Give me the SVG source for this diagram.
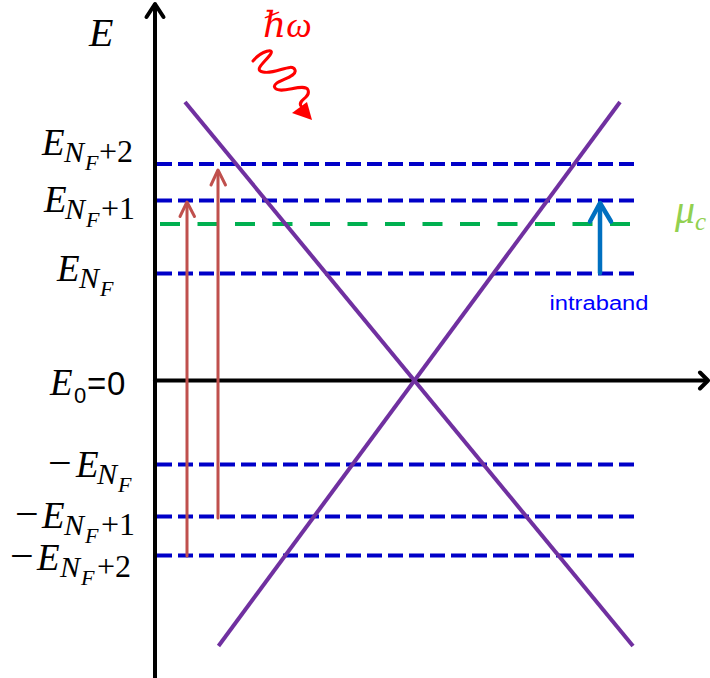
<svg xmlns="http://www.w3.org/2000/svg" width="710" height="678" viewBox="0 0 710 678">
<style>
.ax{stroke:#000;stroke-width:4;fill:none;stroke-linecap:round;stroke-linejoin:round}
.lvl{stroke:#0000c8;stroke-width:4;stroke-dasharray:15 6;fill:none}
.mu{stroke:#00b050;stroke-width:4;stroke-dasharray:20 17.5;fill:none}
.band{stroke:#7030a0;stroke-width:4;fill:none}
.inter{stroke:#c0504d;stroke-width:3;fill:none;stroke-linejoin:round;stroke-linecap:round}
.intra{stroke:#0070c0;stroke-width:4.5;fill:none;stroke-linejoin:round;stroke-linecap:round}
.m{font-family:"Liberation Serif","DejaVu Serif",serif;font-style:italic;fill:#000}
.up{font-style:normal}
.s{font-family:"Liberation Sans","DejaVu Sans",sans-serif;fill:#000}
</style>
<rect width="710" height="678" fill="#fff"/>
<g id="levels">
<line class="lvl" x1="157" y1="164" x2="635" y2="164"/>
<line class="lvl" x1="157" y1="200.5" x2="635" y2="200.5"/>
<line class="lvl" x1="157" y1="273.5" x2="635" y2="273.5"/>
<line class="lvl" x1="157" y1="464.5" x2="635" y2="464.5"/>
<line class="lvl" x1="157" y1="516.5" x2="635" y2="516.5"/>
<line class="lvl" x1="157" y1="555.5" x2="635" y2="555.5"/>
<line class="mu" x1="160" y1="224" x2="630" y2="224"/>
</g>
<g id="axes">
<line class="ax" x1="155" y1="678" x2="155" y2="5"/>
<polyline class="ax" points="146.5,17 155,4 163.5,17"/>
<line class="ax" x1="155" y1="380.5" x2="706" y2="380.5"/>
<polyline class="ax" points="700,372.5 708,380.5 700,388.5"/>
</g>
<g id="bands">
<line class="band" x1="185" y1="102" x2="633" y2="646"/>
<line class="band" x1="218.5" y1="646" x2="620" y2="102"/>
</g>
<g id="connectors">
<line class="inter" x1="187" y1="556" x2="187" y2="203"/>
<polyline class="inter" points="180,216.5 187,202 194.5,216.5"/>
<line class="inter" x1="218" y1="518" x2="218" y2="171"/>
<polyline class="inter" points="211,185 218,170 225.5,185"/>
<line class="intra" x1="600" y1="273" x2="600" y2="204"/>
<polyline class="intra" points="590,221.5 600,203 611,221.5"/>
</g>
<g id="photon">
<text class="m" x="263" y="37" font-size="36" style="fill:#ff0000">ℏω</text>
<path d="M253,61 C261,51 276,47 270,55 C263,64 254,70 263,72 C275,75 292,62 295,70 C298,78 270,81 275,88 C280,95 305,82 308,90 C311,98 297,100 301,106" fill="none" stroke="#ff0000" stroke-width="3" stroke-linecap="round"/>
<polygon points="292,113 312,120 307,102" fill="#ff0000"/>
</g>
<g id="label-E">
<text class="m" x="89" y="46" font-size="40">E</text>
</g>
<g id="label-ENF2">
<text class="m" font-size="37"><tspan x="42" y="155">E</tspan><tspan x="64" y="162" font-size="30">N</tspan><tspan x="85" y="170" font-size="22">F</tspan><tspan class="up" x="99" y="162" font-size="32">+2</tspan></text>
</g>
<g id="label-ENF1">
<text class="m" font-size="37"><tspan x="44" y="212">E</tspan><tspan x="65" y="219" font-size="30">N</tspan><tspan x="86" y="227" font-size="22">F</tspan><tspan class="up" x="101" y="219" font-size="32">+1</tspan></text>
</g>
<g id="label-ENF">
<text class="m" font-size="37"><tspan x="57" y="281">E</tspan><tspan x="79" y="288" font-size="30">N</tspan><tspan x="100" y="296" font-size="22">F</tspan></text>
</g>
<g id="label-E0">
<text class="m" font-size="37"><tspan x="50" y="395">E</tspan><tspan class="s up" x="74" y="403" font-size="22">0</tspan></text>
<text class="s" font-size="33"><tspan x="87" y="395">=</tspan><tspan x="107" y="395">0</tspan></text>
</g>
<g id="label-mENF">
<text class="m" font-size="37"><tspan class="up" x="48" y="477" font-size="42">−</tspan><tspan x="76" y="477">E</tspan><tspan x="97" y="484" font-size="30">N</tspan><tspan x="118" y="492" font-size="22">F</tspan></text>
</g>
<g id="label-mENF1">
<text class="m" font-size="37"><tspan class="up" x="15" y="528" font-size="42">−</tspan><tspan x="42" y="528">E</tspan><tspan x="64" y="535" font-size="30">N</tspan><tspan x="85" y="543" font-size="22">F</tspan><tspan class="up" x="101" y="535" font-size="32">+1</tspan></text>
</g>
<g id="label-mENF2">
<text class="m" font-size="37"><tspan class="up" x="10" y="570" font-size="42">−</tspan><tspan x="37" y="570">E</tspan><tspan x="60" y="577" font-size="30">N</tspan><tspan x="81" y="585" font-size="22">F</tspan><tspan class="up" x="97" y="577" font-size="32">+2</tspan></text>
</g>
<g id="label-mu">
<text class="m" font-size="40" style="fill:#92d050"><tspan x="675" y="223">μ</tspan><tspan x="695" y="230" font-size="25">c</tspan></text>
</g>
<g id="label-intraband">
<text class="s" x="599" y="310" font-size="20" text-anchor="middle" textLength="99" lengthAdjust="spacingAndGlyphs" style="fill:#0000ff">intraband</text>
</g>
</svg>
